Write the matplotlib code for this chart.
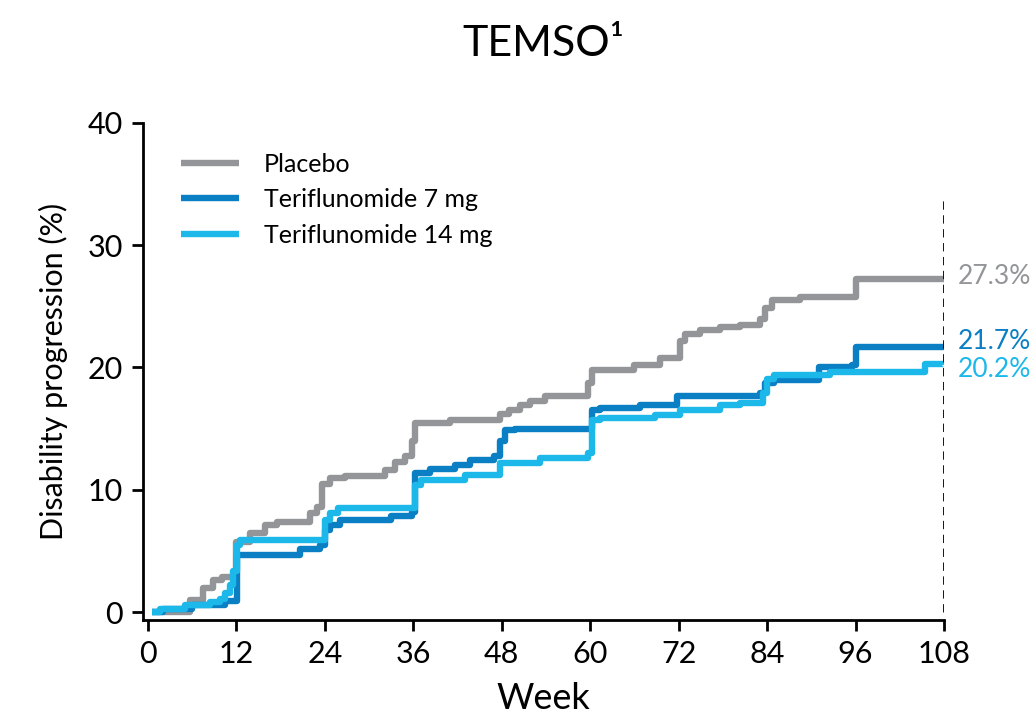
import matplotlib.pyplot as plt

plt.rcParams['font.family'] = ['Lato', 'Open Sans', 'DejaVu Sans']

# weeks / cumulative % (step functions)
placebo_wk = [0.5, 5.7, 7.5, 8.8, 10, 12, 13.8, 15.9, 17.5, 22, 23, 23.6, 24.7, 26.7,
              32.2, 33.5, 34.9, 35.8, 36.2, 41, 47.8, 49, 50.5, 51.8, 53.9, 59.7, 60.2,
              66, 69.5, 72.2, 72.8, 74.9, 77.6, 80.3, 83, 83.7, 84.7, 88.5, 96, 108]
placebo_pct = [0, 1.0, 2.0, 2.6, 2.9, 5.7, 6.5, 7.1, 7.4, 8.1, 8.6, 10.5, 11.0, 11.1,
               11.6, 12.3, 12.8, 14.0, 15.5, 15.7, 16.2, 16.5, 16.9, 17.3, 17.7, 18.7, 19.8,
               20.2, 20.8, 22.2, 22.7, 23.1, 23.3, 23.5, 24.0, 24.9, 25.5, 25.8, 27.2, 27.4]

teri7_wk = [0.5, 2, 6, 10.5, 12.1, 20.6, 23.3, 24, 24.7, 26, 33, 35.8, 36.2, 38.3,
            41.6, 43.7, 47, 47.8, 48.4, 49.8, 60.2, 61.3, 66.8, 71.8, 83, 83.7, 85,
            91, 95.5, 96, 108]
teri7_pct = [0, 0.3, 0.6, 0.9, 4.7, 5.2, 5.5, 6.7, 7.1, 7.5, 7.9, 8.2, 11.4, 11.7,
             12.0, 12.4, 12.8, 14.0, 14.9, 15.0, 16.5, 16.7, 16.9, 17.7, 17.9, 18.7, 19.0,
             20.0, 20.2, 21.7, 21.7]

teri14_wk = [0.5, 1.6, 5, 8.4, 9.8, 10.4, 11.1, 11.5, 12.1, 12.5, 24, 24.7, 25.8,
             36.2, 37, 43, 47.8, 53.2, 59.7, 60.2, 61.3, 68.8, 72.2, 77.6, 80.3, 83.4,
             84, 85, 92.5, 105.4, 108]
teri14_pct = [0, 0.3, 0.6, 0.8, 1.1, 1.6, 2.2, 3.4, 5.5, 5.9, 7.5, 8.1, 8.5,
              10.4, 10.8, 11.2, 12.2, 12.6, 13.0, 15.7, 15.9, 16.1, 16.5, 16.9, 17.1, 17.9,
              19.1, 19.4, 19.6, 20.3, 20.2]

end_labels = ['27.3%', '21.7%', '20.2%']
end_y = [27.4, 22.1, 19.8]
names = ['Placebo', 'Teriflunomide 7 mg', 'Teriflunomide 14 mg']
colors = ['#939598', '#0a7fc4', '#1bb8e9']

fig = plt.figure(figsize=(10.34, 7.22), dpi=100)
ax = fig.add_axes([0.138, 0.141, 0.775, 0.689])

series = [(placebo_wk, placebo_pct), (teri7_wk, teri7_pct), (teri14_wk, teri14_pct)]
for (wk, pct), name, c in zip(series, names, colors):
    ax.plot(wk, pct, drawstyle='steps-post', color=c, lw=4.6, label=name,
            solid_capstyle='butt')

ax.plot([108, 108], [0, 33.7], color='black', ls=(0, (3, 2)), lw=2.0)

for lab, y, c in zip(end_labels, end_y, colors):
    ax.text(109.8, y, lab, color=c, fontsize=19, va='center', ha='left', clip_on=False)

ax.set_xlim(-0.7, 108)
ax.set_ylim(-0.65, 40)
ax.set_xticks(range(0, 109, 12))
ax.set_yticks(range(0, 41, 10))
for s in ['top', 'right']:
    ax.spines[s].set_visible(False)
for s in ['left', 'bottom']:
    ax.spines[s].set_linewidth(2)
ax.tick_params(direction='out', length=8, width=2, labelsize=22, pad=6)

ax.set_xlabel('Week', fontsize=26, labelpad=10)
ax.set_ylabel('Disability progression (%)', fontsize=22, labelpad=14)
ax.set_title('TEMSO¹', fontsize=31, pad=48)

ax.legend(loc='upper left', bbox_to_anchor=(0.02, 0.985), frameon=False, fontsize=18,
          handlelength=2.3, handletextpad=1.0, labelspacing=0.5)

fig.savefig('out.png', dpi=100)
